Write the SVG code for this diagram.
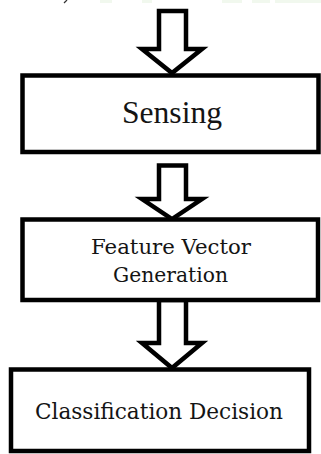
<svg xmlns="http://www.w3.org/2000/svg" width="321" height="454" viewBox="0 0 321 454">
  <style>
    .box { fill: #ffffff; stroke: #000000; stroke-width: 4.5; }
    .arrow { fill: #ffffff; stroke: #000000; stroke-width: 4.5; stroke-linejoin: miter; stroke-miterlimit: 10; }
    .label { fill: #141414; text-anchor: middle; }
    .times { font-family: "Liberation Serif", "Times New Roman", serif; }
    .wide { font-family: "DejaVu Serif", "Liberation Serif", serif; }
  </style>
  <rect width="321" height="454" fill="#ffffff"/>

  <!-- faint strip along the top edge -->
  <g id="top-strip" fill="#f1f8ee">
    <rect x="100" y="0" width="12" height="3"/>
    <rect x="142" y="0" width="10" height="3"/>
    <rect x="222" y="0" width="20" height="3"/>
    <rect x="252" y="0" width="18" height="3"/>
    <rect x="275" y="0" width="46" height="3"/>
  </g>
  <path d="M67,0 L64,3" stroke="#333" stroke-width="1.2" fill="none"/>

  <g id="connectors">
    <path class="arrow" d="M159,11 H186 V49 H202 L172,73 L142,49 H159 Z"/>
    <path class="arrow" d="M159,165.5 H186 V199 H202 L172,219 L142,199 H159 Z"/>
    <path class="arrow" d="M159,300 H186 V343 H202 L172,368 L142,343 H159 Z"/>
  </g>

  <g id="sensing">
    <rect class="box" x="22.5" y="75.5" width="296" height="76.5"/>
    <text class="label times" x="172" y="123" font-size="31" textLength="100" lengthAdjust="spacingAndGlyphs">Sensing</text>
  </g>

  <g id="feature-vector-generation">
    <rect class="box" x="22.5" y="219.5" width="295.5" height="80.5"/>
    <text class="label wide" x="171" y="254" font-size="20.5" textLength="160" lengthAdjust="spacingAndGlyphs">Feature Vector</text>
    <text class="label wide" x="170.5" y="282" font-size="20.5" textLength="115" lengthAdjust="spacingAndGlyphs">Generation</text>
  </g>

  <g id="classification-decision">
    <rect class="box" x="11" y="369.5" width="298" height="81.5"/>
    <text class="label wide" x="159" y="419" font-size="22" textLength="248" lengthAdjust="spacingAndGlyphs">Classification Decision</text>
  </g>
</svg>
